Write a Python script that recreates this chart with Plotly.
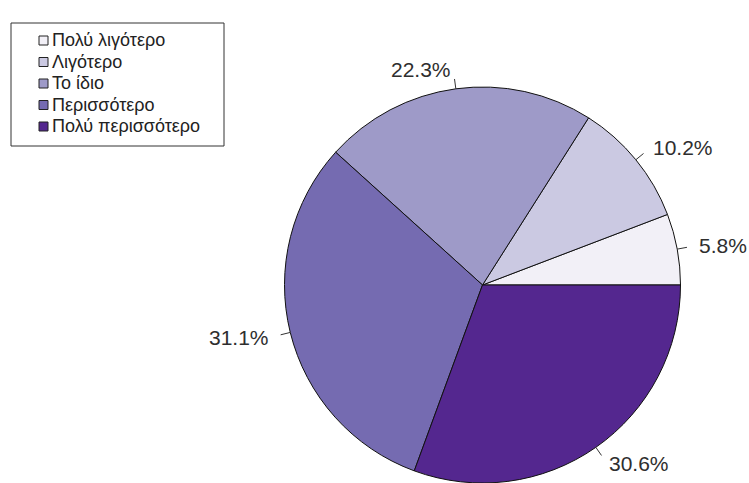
import math
import plotly.graph_objects as go

# Survey response shares (percent), drawn counterclockwise from 3 o'clock
categories = ["Πολύ λιγότερο", "Λιγότερο", "Το ίδιο", "Περισσότερο", "Πολύ περισσότερο"]
shares = [5.8, 10.2, 22.3, 31.1, 30.6]
colors = ["#f2f0f7", "#cbc9e2", "#9e9ac8", "#756bb1", "#54278f"]

W, H = 749, 483
CX, CY, R = 482.5, 285, 198  # pie centre and radius in pixels
total = sum(shares)

# Plotly's counterclockwise pies end the first slice at `rotation`,
# so shift by the first slice to start it at 3 o'clock.
rotation = 90 - 360 * shares[0] / total

fig = go.Figure(
    go.Pie(
        labels=categories,
        values=shares,
        sort=False,
        direction="counterclockwise",
        rotation=rotation,
        marker=dict(colors=colors, line=dict(color="#111111", width=1)),
        textinfo="none",
        hoverinfo="label+percent",
        showlegend=False,
        domain=dict(x=[(CX - R) / W, (CX + R) / W], y=[(H - CY - R) / H, (H - CY + R) / H]),
    )
)

def px(x, y):
    return x / W, 1 - y / H

# Outside percentage labels with short leader ticks
cum = 0.0
for v in shares:
    theta = 2 * math.pi * (cum + v / 2) / total
    cum += v
    c, s = math.cos(theta), math.sin(theta)
    x0, y0 = px(CX + R * c, CY - R * s)
    x1, y1 = px(CX + 1.05 * R * c, CY - 1.05 * R * s)
    xt, yt = px(CX + 1.1 * R * c, CY - 1.1 * R * s)
    fig.add_shape(type="line", xref="paper", yref="paper",
                  x0=x0, y0=y0, x1=x1, y1=y1,
                  line=dict(color="#333333", width=1))
    fig.add_annotation(xref="paper", yref="paper", x=xt, y=yt,
                       text=f"{v:.1f}%", showarrow=False,
                       xanchor="left" if c > 0 else "right", yanchor="middle",
                       font=dict(family="Liberation Sans, Arial", size=21, color="#2e2e2e"))

# Boxed legend in the top-left corner
LEG_L, LEG_T, LEG_R, LEG_B = 11, 23, 224, 146
ROW0, ROW_STEP, BOX = 40.5, 21.5, 9
bx0, by0 = px(LEG_L, LEG_T)
bx1, by1 = px(LEG_R, LEG_B)
fig.add_shape(type="rect", xref="paper", yref="paper", x0=bx0, y0=by0, x1=bx1, y1=by1,
              line=dict(color="#333333", width=1), fillcolor="rgba(0,0,0,0)")
for i, (name, col) in enumerate(zip(categories, colors)):
    yc = ROW0 + i * ROW_STEP
    sx0, sy0 = px(39, yc - BOX / 2)
    sx1, sy1 = px(39 + BOX, yc + BOX / 2)
    fig.add_shape(type="rect", xref="paper", yref="paper", x0=sx0, y0=sy0, x1=sx1, y1=sy1,
                  line=dict(color="#222222", width=1), fillcolor=col)
    tx, ty = px(49.5, yc)
    fig.add_annotation(xref="paper", yref="paper", x=tx, y=ty, text=name, showarrow=False,
                       xanchor="left", yanchor="middle",
                       font=dict(family="Liberation Sans, Arial", size=18, color="#222222"))

fig.update_layout(
    width=W, height=H,
    margin=dict(l=0, r=0, t=0, b=0),
    paper_bgcolor="white",
    plot_bgcolor="white",
)

fig.write_html("out.html")
